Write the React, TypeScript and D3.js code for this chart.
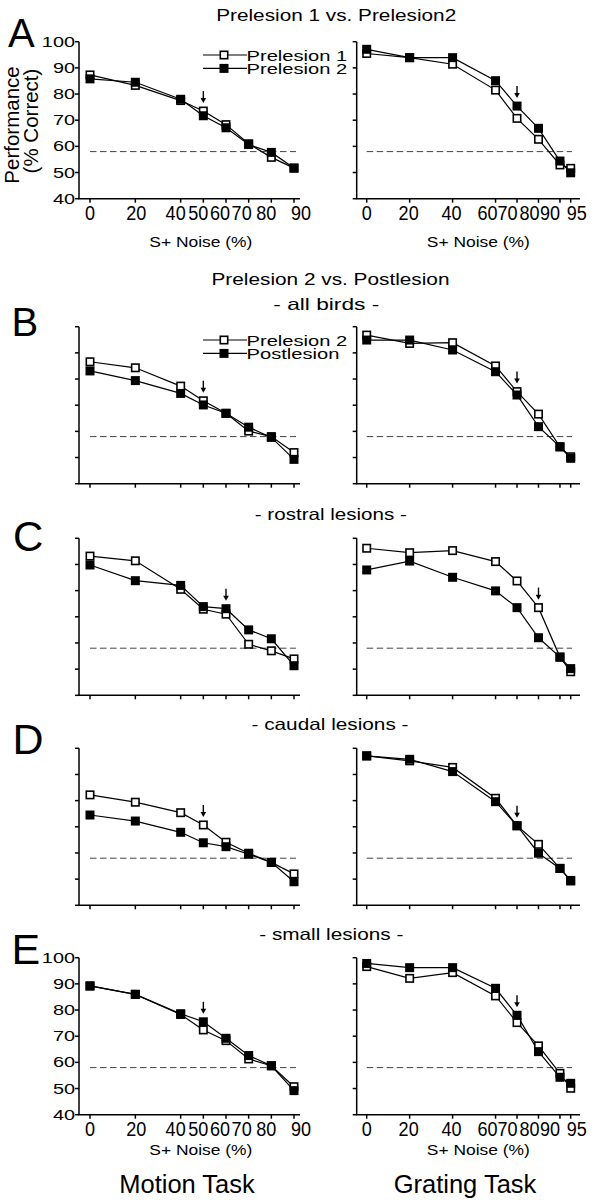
import React from 'react';
import * as d3 from 'd3';

// ---------- data ----------
const motionNoise = [0, 20, 40, 50, 60, 70, 80, 90];
const gratingNoise = [0, 20, 40, 60, 70, 80, 90, 95];
const yTicks = [40, 50, 60, 70, 80, 90, 100];
const chanceLevel = 58;

// Panel A: Prelesion 1 (open) vs Prelesion 2 (filled)
const aMotionPre1 = [87.3, 83.3, 77.5, 73.5, 68.3, 61.0, 55.8, 51.7];
const aMotionPre2 = [85.8, 84.5, 78.0, 71.7, 67.1, 60.7, 57.7, 51.7];
const aGratingPre1 = [95.5, 93.9, 91.4, 81.5, 70.7, 62.7, 52.9, 51.6];
const aGratingPre2 = [97.1, 93.9, 93.9, 85.1, 75.4, 66.9, 54.4, 49.9];
// Panel B: all birds, Prelesion 2 (open) vs Postlesion (filled)
const bMotionPre2 = [86.6, 84.3, 77.3, 71.7, 66.9, 60.1, 58.0, 51.9];
const bMotionPost = [83.1, 79.4, 74.5, 70.1, 66.9, 61.6, 57.7, 49.3];
const bGratingPre2 = [96.8, 93.6, 93.9, 85.0, 75.2, 66.6, 54.1, 50.3];
const bGratingPost = [94.9, 94.9, 91.1, 82.8, 73.9, 61.8, 54.1, 49.7];
// Panel C: rostral lesions
const cMotionPre2 = [93.2, 91.4, 80.5, 72.9, 71.0, 59.5, 57.0, 53.9];
const cMotionPost = [89.8, 83.8, 82.0, 73.9, 73.1, 65.0, 61.6, 51.3];
const cGratingPre2 = [96.2, 94.5, 95.3, 91.1, 83.7, 73.5, 54.6, 49.0];
const cGratingPost = [87.9, 91.3, 85.1, 79.9, 73.5, 62.0, 54.6, 50.2];
// Panel D: caudal lesions
const dMotionPre2 = [82.2, 79.4, 75.4, 70.7, 64.1, 59.9, 56.4, 52.0];
const dMotionPost = [74.5, 72.2, 67.9, 63.9, 62.4, 59.5, 56.4, 49.0];
const dGratingPre2 = [97.1, 95.2, 92.7, 80.9, 70.4, 63.3, 54.1, 49.5];
const dGratingPost = [97.1, 95.8, 91.1, 79.6, 70.4, 59.9, 54.1, 49.3];
// Panel E: small lesions
const eMotionPre2 = [89.2, 86.0, 78.3, 72.4, 68.3, 61.3, 58.7, 50.7];
const eMotionPost = [89.2, 86.0, 78.6, 75.5, 69.2, 62.6, 58.7, 49.2];
const eGratingPre2 = [96.6, 92.1, 94.3, 85.4, 75.2, 66.3, 55.8, 50.1];
const eGratingPost = [97.8, 96.2, 96.2, 88.3, 78.0, 64.1, 54.3, 52.0];

const letters = ['A', 'B', 'C', 'D', 'E'];
const motionArrow = [50, 50, 60, 50, 50];
const gratingArrow = [70, 70, 80, 70, 70];
const legendA = ['Prelesion 1', 'Prelesion 2'];
const legendB = ['Prelesion 2', 'Postlesion'];
const subtitles = ['- all birds -', '- rostral lesions -', '- caudal lesions -', '- small lesions -'];

// ---------- layout ----------
const FONT = "'Liberation Sans', Arial, Helvetica, sans-serif";
const W = 594;
const H = 1200;
const PLOT_H = 157;
const panelTops = [41.7, 326.7, 538.3, 748.3, 957.7];
const letterPos = [
  { x: 8, y: 47, s: 40 },
  { x: 11.5, y: 336, s: 40 },
  { x: 13, y: 550.5, s: 42 },
  { x: 12.5, y: 753.5, s: 43 },
  { x: 11.5, y: 963.5, s: 43 },
];
const left = { axisX: 79, r0: 90, r1: 294, end: 300, dashEnd: 296, domainMax: 90 };
const right = { axisX: 356.7, r0: 366.7, r1: 570.7, end: 580, dashEnd: 572, domainMax: 95 };
const motionLabelShift = [0, 1, -5, -5, -6, -7, -5, 7];
const gratingLabelShift = [0, -1, -1, -8, -9.5, -9, -10, 6];
const subtitlePos = [
  { cx: 326.3, y: 310, w: 106 },
  { cx: 330.8, y: 520, w: 152 },
  { cx: 330, y: 730, w: 157 },
  { cx: 331.3, y: 940, w: 144 },
];

const SX = 1.3;

function ST({ x, y, size, sx = SX, anchor = 'start', children }: any) {
  return (
    <text
      transform={`translate(${x},${y}) scale(${sx},1)`}
      fontSize={size}
      textAnchor={anchor}
      fontFamily={FONT}
      fill="#000"
    >
      {children}
    </text>
  );
}

function Sq({ x, y, filled }: any) {
  return filled ? (
    <rect x={x - 4.5} y={y - 4.5} width={9} height={9} fill="#000" />
  ) : (
    <rect x={x - 3.7} y={y - 3.7} width={7.4} height={7.4} fill="#fff" stroke="#000" strokeWidth={1.6} />
  );
}

function SubPlot({ top, side, noise, openVals, filledVals, arrowAt, yLabels, xLabels, labelShift, legend }: any) {
  const x = d3.scaleLinear().domain([0, side.domainMax]).range([side.r0, side.r1]);
  const y = d3.scaleLinear().domain([40, 100]).range([top + PLOT_H, top]);
  const bottom = top + PLOT_H;
  const line = d3
    .line<number>()
    .x((_, i) => x(noise[i]))
    .y((d) => y(d));
  const ai = noise.indexOf(arrowAt);
  const tip = Math.min(y(openVals[ai]), y(filledVals[ai])) - 8;
  const ax = x(arrowAt);
  return (
    <g>
      {/* chance line */}
      <line
        x1={x(0)}
        x2={side.dashEnd}
        y1={y(chanceLevel)}
        y2={y(chanceLevel)}
        stroke="#444"
        strokeWidth={1}
        strokeDasharray="6.5,3.5"
      />
      {/* axes */}
      <path
        d={`M${side.axisX},${top}V${bottom}H${side.end}`}
        fill="none"
        stroke="#000"
        strokeWidth={1.5}
      />
      {yTicks.map((t) => (
        <line key={'yt' + t} x1={side.axisX - 4} x2={side.axisX} y1={y(t)} y2={y(t)} stroke="#000" strokeWidth={1.5} />
      ))}
      {noise.map((n: number) => (
        <line key={'xt' + n} x1={x(n)} x2={x(n)} y1={bottom} y2={bottom + 4} stroke="#000" strokeWidth={1.5} />
      ))}
      {yLabels &&
        yTicks.map((t) => (
          <ST key={'yl' + t} x={75} y={y(t) + 5} size={14} sx={1.42} anchor="end">
            {t}
          </ST>
        ))}
      {xLabels &&
        noise.map((n: number, i: number) => (
          <ST key={'xl' + n} x={x(n) + labelShift[i]} y={bottom + 21.5} size={21} sx={0.86} anchor="middle">
            {n}
          </ST>
        ))}
      {/* lines */}
      <path d={line(openVals) || ''} fill="none" stroke="#000" strokeWidth={1.2} />
      <path d={line(filledVals) || ''} fill="none" stroke="#000" strokeWidth={1.2} />
      {openVals.map((v: number, i: number) => (
        <Sq key={'o' + i} x={x(noise[i])} y={y(v)} filled={false} />
      ))}
      {filledVals.map((v: number, i: number) => (
        <Sq key={'f' + i} x={x(noise[i])} y={y(v)} filled={true} />
      ))}
      {/* arrow */}
      <line x1={ax} x2={ax} y1={tip - 12} y2={tip - 4} stroke="#000" strokeWidth={1.4} />
      <path d={`M${ax - 2.8},${tip - 5}L${ax + 2.8},${tip - 5}L${ax},${tip}Z`} fill="#000" />
      {legend && (
        <g>
          {legend.map((lab: string, i: number) => {
            const ly = top + 13.3 + i * 13.4;
            return (
              <g key={lab}>
                <line x1={203} x2={247} y1={ly} y2={ly} stroke="#000" strokeWidth={1.2} />
                <Sq x={224} y={ly} filled={i === 1} />
                <ST x={246.5} y={ly + 6} size={14} sx={1.44}>
                  {lab}
                </ST>
              </g>
            );
          })}
        </g>
      )}
    </g>
  );
}

const panelData = [
  { m: [aMotionPre1, aMotionPre2], g: [aGratingPre1, aGratingPre2], legend: legendA },
  { m: [bMotionPre2, bMotionPost], g: [bGratingPre2, bGratingPost], legend: legendB },
  { m: [cMotionPre2, cMotionPost], g: [cGratingPre2, cGratingPost], legend: null },
  { m: [dMotionPre2, dMotionPost], g: [dGratingPre2, dGratingPost], legend: null },
  { m: [eMotionPre2, eMotionPost], g: [eGratingPre2, eGratingPost], legend: null },
];

export default function App() {
  return (
    <svg
      width={W}
      height={H}
      viewBox={`0 0 ${W} ${H}`}
      style={{ position: 'absolute', left: 0, top: 0, background: '#fff' }}
    >
      <rect x={0} y={0} width={W} height={H} fill="#fff" />
      {/* titles */}
      <text x={336.2} y={21} fontSize={16.5} fontFamily={FONT} textAnchor="middle" textLength={240} lengthAdjust="spacingAndGlyphs">
        Prelesion 1 vs. Prelesion2
      </text>
      <text x={330.5} y={285} fontSize={16.5} fontFamily={FONT} textAnchor="middle" textLength={238} lengthAdjust="spacingAndGlyphs">
        Prelesion 2 vs. Postlesion
      </text>
      {subtitles.map((s, i) => (
        <text
          key={s}
          x={subtitlePos[i].cx}
          y={subtitlePos[i].y}
          fontSize={16.5}
          fontFamily={FONT}
          textAnchor="middle"
          textLength={subtitlePos[i].w}
          lengthAdjust="spacingAndGlyphs"
        >
          {s}
        </text>
      ))}
      {/* y-axis label */}
      <text transform="translate(19,125) rotate(-90)" fontSize={20.5} fontFamily={FONT} textAnchor="middle">
        Performance
      </text>
      <text transform="translate(37.5,121) rotate(-90)" fontSize={20.5} fontFamily={FONT} textAnchor="middle">
        (% Correct)
      </text>
      {panelData.map((p, pi) => {
        const top = panelTops[pi];
        const showX = pi === 0 || pi === 4;
        return (
          <g key={pi}>
            <text x={letterPos[pi].x} y={letterPos[pi].y} fontSize={letterPos[pi].s} fontFamily={FONT}>
              {letters[pi]}
            </text>
            <SubPlot
              top={top}
              side={left}
              noise={motionNoise}
              openVals={p.m[0]}
              filledVals={p.m[1]}
              arrowAt={motionArrow[pi]}
              yLabels={showX}
              xLabels={showX}
              labelShift={motionLabelShift}
              legend={p.legend}
            />
            <SubPlot
              top={top}
              side={right}
              noise={gratingNoise}
              openVals={p.g[0]}
              filledVals={p.g[1]}
              arrowAt={gratingArrow[pi]}
              yLabels={false}
              xLabels={showX}
              labelShift={gratingLabelShift}
              legend={null}
            />
          </g>
        );
      })}
      {/* x-axis titles */}
      <ST x={200.8} y={247} size={15} sx={1.16} anchor="middle">S+ Noise (%)</ST>
      <ST x={478.3} y={247} size={15} sx={1.16} anchor="middle">S+ Noise (%)</ST>
      <ST x={200.8} y={1155} size={15} sx={1.16} anchor="middle">S+ Noise (%)</ST>
      <ST x={478.3} y={1155} size={15} sx={1.16} anchor="middle">S+ Noise (%)</ST>
      {/* task labels */}
      <text x={187} y={1193} fontSize={25.5} fontFamily={FONT} textAnchor="middle">
        Motion Task
      </text>
      <text x={465} y={1193} fontSize={25.5} fontFamily={FONT} textAnchor="middle">
        Grating Task
      </text>
    </svg>
  );
}
